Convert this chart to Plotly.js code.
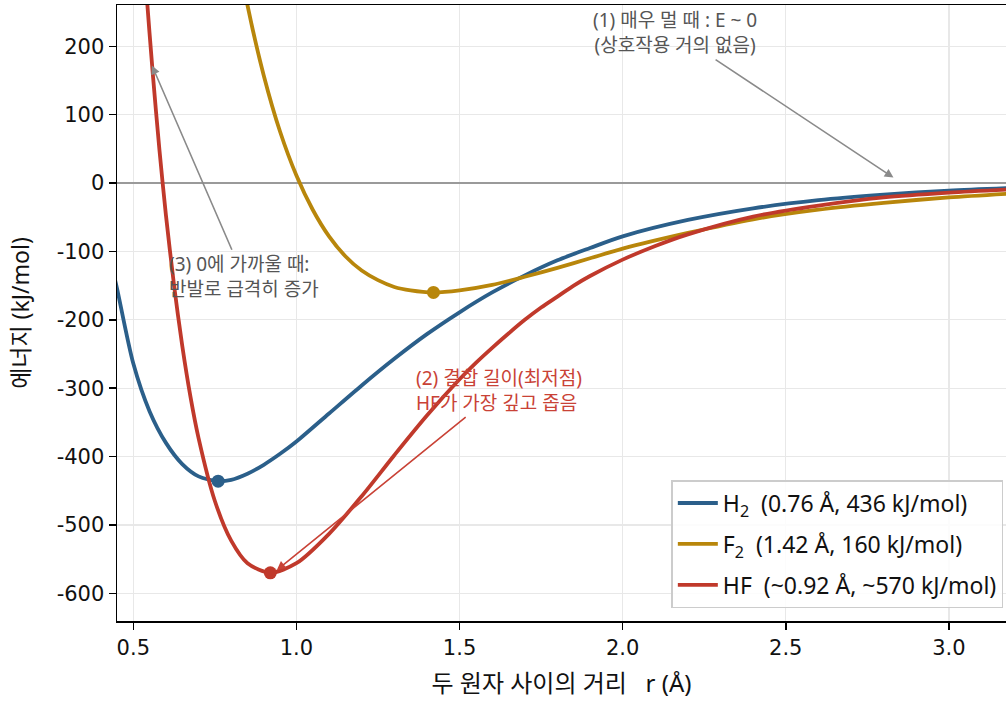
<!DOCTYPE html>
<html>
<head>
<meta charset="utf-8">
<script src="https://cdn.plot.ly/plotly-3.0.1.min.js"></script>
<style>html,body{margin:0;padding:0;background:#fff;}#chart{width:1006px;height:702px;}</style>
</head>
<body>
<div id="chart"></div>
<script>
// H2 curve
const h2R = [0.44, 0.45, 0.5, 0.55, 0.6, 0.65, 0.7, 0.76, 0.8, 0.85, 0.9, 0.95, 1.0, 1.1, 1.2, 1.3, 1.4, 1.5, 1.6, 1.7, 1.8, 1.9, 2.0, 2.2, 2.4, 2.6, 2.8, 3.0, 3.2];
const h2E = [-134, -154, -264, -334, -380, -411, -429, -436, -434, -425, -412, -396, -378, -337, -296, -257, -221, -189, -160, -135, -113, -95, -78, -54, -37, -25, -17, -11, -7];
// F2 curve
const f2R = [0.8, 0.85, 0.9, 0.95, 1.0, 1.05, 1.1, 1.15, 1.2, 1.25, 1.3, 1.35, 1.42, 1.5, 1.6, 1.7, 1.8, 1.9, 2.0, 2.2, 2.4, 2.6, 2.8, 3.0, 3.2];
const f2E = [389, 260, 157, 75, 11, -39, -78, -107, -128, -142, -152, -157, -160, -157, -149, -137, -124, -110, -96, -73, -53, -39, -29, -21, -15];
// HF curve
const hfR = [0.52, 0.54, 0.56, 0.58, 0.6, 0.625, 0.65, 0.675, 0.7, 0.75, 0.8, 0.85, 0.92, 1.0, 1.1, 1.2, 1.3, 1.4, 1.5, 1.55, 1.6, 1.65, 1.7, 1.75, 1.8, 1.85, 1.9, 2.0, 2.1, 2.2, 2.4, 2.6, 2.8, 3.0, 3.2];
const hfE = [418, 280, 158, 49, -47, -150, -238, -312, -373, -465, -523, -556, -570, -556, -513, -458, -398, -340, -287, -263, -241, -220, -200, -182, -166, -150, -136, -112, -92, -75, -49, -33, -21, -14, -9];
// minima (bond length, -bond energy)
const minNames = ['H2', 'F2', 'HF'];
const minR = [0.76, 1.42, 0.92];
const minE = [-436, -160, -570];
const legendLabels = [
  'H<sub>2</sub>\u00a0\u00a0(0.76\u00a0Å, 436\u00a0kJ/mol)',
  'F<sub>2</sub>\u00a0\u00a0(1.42\u00a0Å, 160\u00a0kJ/mol)',
  'HF\u00a0\u00a0(~0.92\u00a0Å, ~570\u00a0kJ/mol)'
];
const colors = ['#2b5f8a', '#b8860b', '#c0392b'];
const xTickVals = [0.5, 1.0, 1.5, 2.0, 2.5, 3.0];
const xTickText = ['0.5', '1.0', '1.5', '2.0', '2.5', '3.0'];
const yTickVals = [-600, -500, -400, -300, -200, -100, 0, 100, 200];
const yTickText = ['-600', '-500', '-400', '-300', '-200', '-100', '0', '100', '200'];

const curves = [[h2R, h2E], [f2R, f2E], [hfR, hfE]];
const traces = [];
curves.forEach((c, i) => {
  traces.push({
    x: c[0], y: c[1], type: 'scatter', mode: 'lines',
    name: legendLabels[i], legendgroup: 'g' + i,
    line: {color: colors[i], width: 3.8, shape: 'spline', smoothing: 0.8},
    hoverinfo: 'skip'
  });
});
minR.forEach((r, i) => {
  traces.push({
    x: [r], y: [minE[i]], type: 'scatter', mode: 'markers', showlegend: false,
    name: minNames[i], marker: {color: colors[i], size: 13}, hoverinfo: 'skip'
  });
});

const txt = '"Noto Sans", "Noto Sans CJK KR", sans-serif';
const layout = {
  width: 1006, height: 702,
  margin: {l: 117, r: 0, t: 5, b: 81},
  paper_bgcolor: '#fff', plot_bgcolor: '#fff',
  showlegend: true,
  xaxis: {
    range: [0.45, 3.175], tickvals: xTickVals, ticktext: xTickText,
    showgrid: true, gridcolor: '#e8e8e8', gridwidth: 1.3,
    zeroline: false, showline: true, linecolor: '#000', linewidth: 1.5, mirror: true,
    ticks: 'outside', ticklen: 7, tickwidth: 1.5, tickcolor: '#000',
    tickfont: {family: '"DejaVu Sans", sans-serif', size: 21, color: '#111'},
    title: {text: '두 원자 사이의 거리\u00a0\u00a0\u00a0r (Å)', font: {family: txt, size: 24, color: '#111'}, standoff: 16}
  },
  yaxis: {
    range: [-640.5, 260.4], tickvals: yTickVals, ticktext: yTickText,
    showgrid: true, gridcolor: '#e8e8e8', gridwidth: 1.3,
    zeroline: true, zerolinecolor: '#9a9a9a', zerolinewidth: 1.6,
    showline: true, linecolor: '#000', linewidth: 1.5, mirror: false,
    ticks: 'outside', ticklen: 7, tickwidth: 1.5, tickcolor: '#000',
    tickfont: {family: '"DejaVu Sans", sans-serif', size: 21, color: '#111'},
    title: {text: '에너지 (kJ/mol)', font: {family: txt, size: 23, color: '#111'}, standoff: 20}
  },
  legend: {
    x: 0.997, xanchor: 'right', y: 0.021, yanchor: 'bottom',
    bgcolor: 'rgba(255,255,255,0.85)', bordercolor: '#cccccc', borderwidth: 1.5,
    font: {family: txt, size: 23, color: '#111'},
    traceorder: 'grouped', tracegroupgap: 8, itemwidth: 40
  },
  annotations: [
    {
      x: 2.83, y: 8, xref: 'x', yref: 'y', ax: 2.16, ay: 220, axref: 'x', ayref: 'y',
      text: '(1) 매우 멀 때 : E ~ 0<br>(상호작용 거의 없음)', align: 'center',
      font: {family: txt, size: 19, color: '#555'},
      showarrow: true, arrowhead: 2, arrowsize: 1.1, arrowwidth: 1.6, arrowcolor: '#8a8a8a'
    },
    {
      x: 0.557, y: 172, xref: 'x', yref: 'y', ax: 0.838, ay: -137, axref: 'x', ayref: 'y',
      text: '(3) 0에 가까울 때:<br>반발로 급격히 증가', align: 'left',
      font: {family: txt, size: 19, color: '#555'},
      showarrow: true, arrowhead: 2, arrowsize: 1.1, arrowwidth: 1.6, arrowcolor: '#8a8a8a'
    },
    {
      x: 0.94, y: -566, xref: 'x', yref: 'y', ax: 1.621, ay: -303, axref: 'x', ayref: 'y',
      text: '(2) 결합 길이(최저점)<br>HF가 가장 깊고 좁음', align: 'left',
      font: {family: txt, size: 19, color: '#c94236'},
      showarrow: true, arrowhead: 2, arrowsize: 1.1, arrowwidth: 1.6, arrowcolor: '#c94236'
    }
  ]
};
Plotly.newPlot('chart', traces, layout, {displayModeBar: false, staticPlot: true});
</script>
</body>
</html>
